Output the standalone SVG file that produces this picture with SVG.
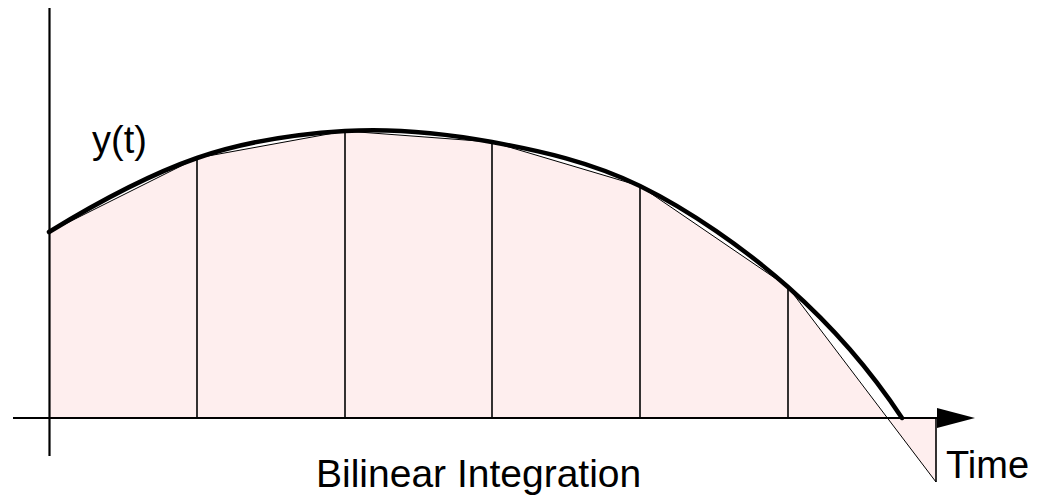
<svg xmlns="http://www.w3.org/2000/svg" width="1057" height="497" viewBox="0 0 1057 497">
<style>
.fill{fill:#feeeee;stroke:none}
.axis{stroke:#000;stroke-width:2.2;fill:none}
.div{stroke:#000;stroke-width:1.6;fill:none}
.chord{stroke:#000;stroke-width:1;fill:none}
.curve{stroke:#000;stroke-width:4.5;fill:none;stroke-linecap:round}
.lbl{font-family:"Liberation Sans",Arial,sans-serif;font-size:38px;fill:#000}
</style>
<defs>
<marker id="arr" markerWidth="40" markerHeight="22" refX="0" refY="10" markerUnits="userSpaceOnUse" orient="auto">
<polygon points="0,0 38,10 0,20" fill="#000"/>
</marker>
</defs>
<g id="area">
<polygon class="fill" points="49,418 49,232 197,158 345,131 492,142 640,186 788,287 887,418"/>
<polygon class="fill" points="887,418 936,418 936,482"/>
</g>
<g id="connectors">
<line class="axis" x1="49.5" y1="8" x2="49.5" y2="456"/>
<line class="axis" x1="13" y1="418" x2="937" y2="418" marker-end="url(#arr)"/>
<line class="div" x1="197" y1="158" x2="197" y2="418"/>
<line class="div" x1="345" y1="131" x2="345" y2="418"/>
<line class="div" x1="492" y1="142" x2="492" y2="418"/>
<line class="div" x1="640" y1="186" x2="640" y2="418"/>
<line class="div" x1="788" y1="287" x2="788" y2="418"/>
<line class="div" x1="936" y1="418" x2="936" y2="482"/>
<polyline class="chord" points="49,232 197,158 345,131 492,142 640,186 788,287 936,482"/>
</g>
<g id="curve">
<path class="curve" d="M49,232 C98,202 148,175 197,158 C246,141 296,134 345,131 C394,128 443,133 492,142 C541,151 591,162 640,186 C689,210 744,248 788,287 C832,326 869,368 902,418"/>
</g>
<g id="labels">
<text class="lbl" x="92" y="153">y(t)</text>
<text class="lbl" x="316" y="487" style="font-size:39px">Bilinear Integration</text>
<text class="lbl" x="946" y="478">Time</text>
</g>
</svg>
